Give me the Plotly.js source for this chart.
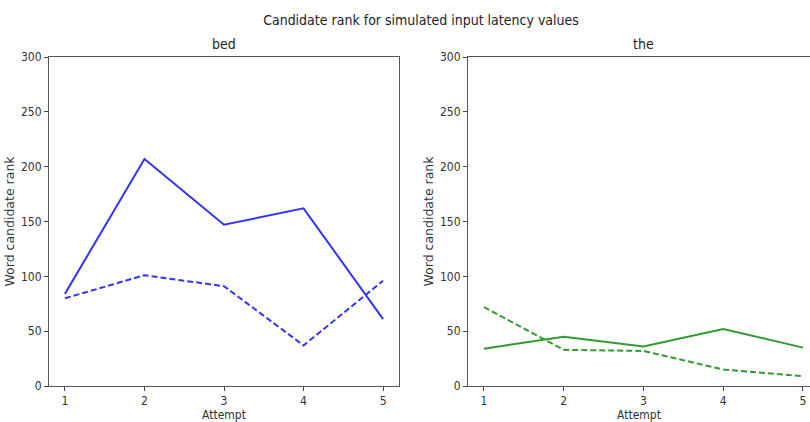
<!DOCTYPE html>
<html>
<head>
<meta charset="utf-8">
<script src="https://cdn.plot.ly/plotly-3.0.1.min.js"></script>
<style>html,body{margin:0;padding:0;background:#fff;}</style>
</head>
<body>
<div id="chart" style="width:810px;height:422px;"></div>
<script>
const attempts = [1, 2, 3, 4, 5];
const bedSolid = [84, 207, 147, 162, 61];
const bedDashed = [80, 101, 91, 37, 96];
const theSolid = [34, 45, 36, 52, 35];
const theDashed = [72, 33, 32, 15, 9];
const yTicks = [0, 50, 100, 150, 200, 250, 300];
const xTicks = [1, 2, 3, 4, 5];

const blue = '#3333ff';
const green = '#339933';
const narrow = '"Liberation Sans Narrow", "Arial Narrow", "DejaVu Sans Condensed", sans-serif';

const traces = [
  {x: attempts, y: bedSolid, xaxis: 'x', yaxis: 'y', mode: 'lines', line: {color: blue, width: 2}},
  {x: attempts, y: bedDashed, xaxis: 'x', yaxis: 'y', mode: 'lines', line: {color: blue, width: 2, dash: '6px,3px'}},
  {x: attempts, y: theSolid, xaxis: 'x2', yaxis: 'y2', mode: 'lines', line: {color: green, width: 2}},
  {x: attempts, y: theDashed, xaxis: 'x2', yaxis: 'y2', mode: 'lines', line: {color: green, width: 2, dash: '6px,3px'}}
];

const W = 761;
function px(p) { return (p - 49) / W; }

const xCommon = {
  tickvals: xTicks, ticks: 'outside', ticklen: 4, tickcolor: '#444', showgrid: false, zeroline: false,
  showline: true, linecolor: '#555', linewidth: 1, mirror: true,
  tickfont: {family: narrow, size: 12, color: '#333'},
  title: {text: 'Attempt', font: {family: narrow, size: 12, color: '#333'}, standoff: 5}
};
const yCommon = {
  range: [0, 300], tickvals: yTicks, ticks: 'outside', ticklen: 4, tickcolor: '#444', showgrid: false, zeroline: false,
  showline: true, linecolor: '#555', linewidth: 1,
  tickfont: {family: narrow, size: 12, color: '#333'},
  title: {text: 'Word candidate rank', font: {family: 'DejaVu Sans', size: 12.5, color: '#333'}, standoff: 3}
};

const layout = {
  width: 810, height: 422,
  margin: {l: 49, r: 0, t: 57, b: 36},
  showlegend: false,
  paper_bgcolor: '#fff', plot_bgcolor: '#fff',
  xaxis: Object.assign({}, xCommon, {domain: [0, px(399)], range: [0.8, 5.2], anchor: 'y'}),
  yaxis: Object.assign({}, yCommon, {domain: [0, 1], anchor: 'x', mirror: true}),
  xaxis2: Object.assign({}, xCommon, {domain: [px(468), 1], range: [0.8, 5.088], anchor: 'y2', mirror: true}),
  yaxis2: Object.assign({}, yCommon, {domain: [0, 1], anchor: 'x2', mirror: false}),
  title: {text: 'Candidate rank for simulated input latency values', font: {family: narrow, size: 14, color: '#222'},
          x: px(421), xref: 'paper', xanchor: 'center', y: 1 - 20/422, yanchor: 'middle'},
  annotations: [
    {text: 'bed', xref: 'paper', yref: 'paper', x: px(224), y: 1 + 13/329, xanchor: 'center', yanchor: 'middle',
     showarrow: false, font: {family: narrow, size: 14, color: '#222'}},
    {text: 'the', xref: 'paper', yref: 'paper', x: px(643), y: 1 + 13/329, xanchor: 'center', yanchor: 'middle',
     showarrow: false, font: {family: narrow, size: 14, color: '#222'}}
  ]
};

Plotly.newPlot('chart', traces, layout, {staticPlot: true, displayModeBar: false});
</script>
</body>
</html>
